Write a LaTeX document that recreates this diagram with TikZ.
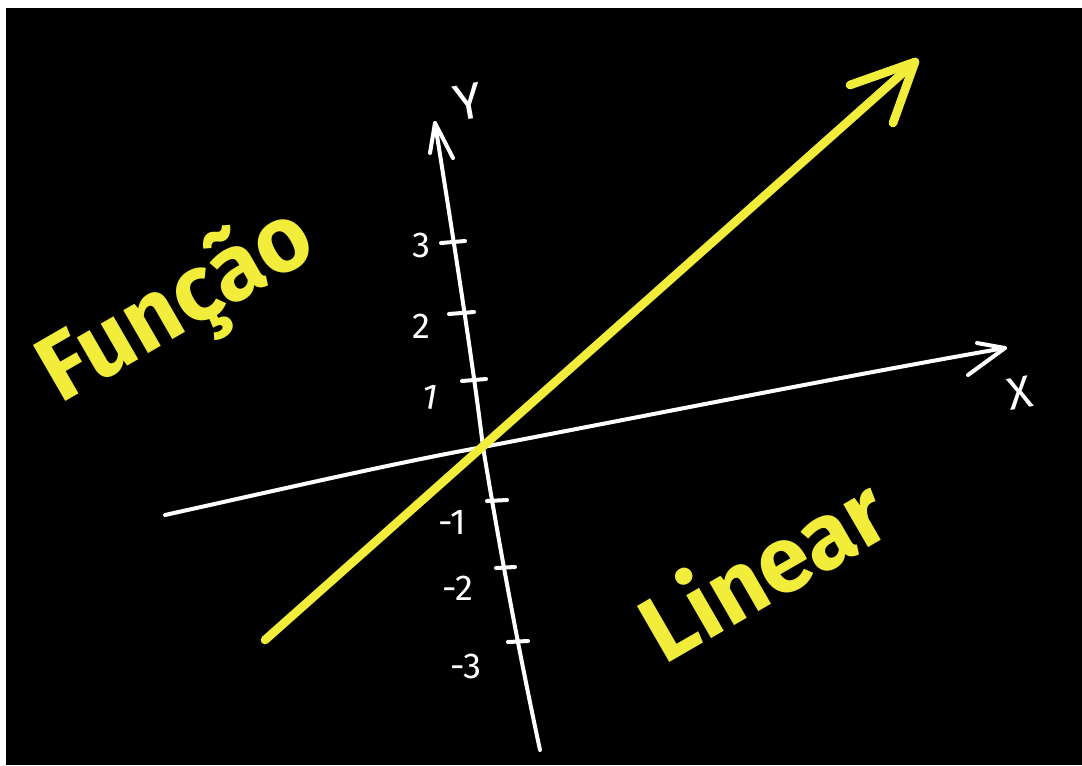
\documentclass[tikz,border=0pt]{standalone}
\usepackage{fontspec}
\setmainfont{Fira Sans}
\definecolor{chalkyellow}{RGB}{242,236,58}
\tikzset{every picture/.style={line width=0.75pt}}

\begin{document}
\begin{tikzpicture}[x=0.75pt,y=0.75pt,yscale=-1,xscale=1]
\useasboundingbox (0,0) rectangle (1082,765);
\tikzset{chalk/.style={draw=white,line width=3pt,line cap=round,line join=round},
  marker/.style={draw=chalkyellow,line width=6.5pt,line cap=round,line join=round},
  numlbl/.style={text=white,font=\fontsize{27}{28}\selectfont,inner sep=0pt},
  bigword/.style={text=chalkyellow,font=\fontsize{70}{72}\selectfont\bfseries,inner sep=0pt,rotate=30}}

%Shape: Rectangle board
\fill [black] (6,8) rectangle (1082,765);

%Coordinates
\coordinate (o) at (483,447);
\coordinate (ytop) at (435,123);
\coordinate (ybot) at (540,750);
\coordinate (xleft) at (165,515);
\coordinate (xright) at (1005,348);
\coordinate (ystart) at (265,640);
\coordinate (yend) at (915,62);

%Straight Lines: x axis
\draw [chalk] (xleft) .. controls (300,485) and (400,462) .. (o) .. controls (650,415) and (850,375) .. (xright);
\draw [chalk] (977,343) -- (xright) -- (968,375);
%Straight Lines: y axis
\draw [chalk] (ytop) .. controls (460,280) and (475,380) .. (o) .. controls (505,580) and (525,680) .. (ybot);
\draw [chalk] (430,153) -- (ytop) -- (453,158);

%Ticks
\draw [chalk] (441,243) -- (465,241);
\draw [chalk] (449,314) -- (474,312);
\draw [chalk] (462,381) -- (486,379);
\draw [chalk] (487,501) -- (507,500);
\draw [chalk] (496,568) -- (515,567);
\draw [chalk] (508,642) -- (528,641);

%Straight Lines: yellow graph
\draw [marker] (ystart) -- (yend);
\draw [marker] (850,85) -- (yend) -- (893,123);

% Text Node
\draw (468,102) node [numlbl,font=\fontsize{38}{40}\selectfont,rotate=10] (ylbl) {Y};
% Text Node
\draw (1020,393) node [numlbl,font=\fontsize{34}{36}\selectfont,rotate=10] (xlbl) {X};
% Text Node
\draw (421,245) node [numlbl] (n3) {3};
\draw (421,326) node [numlbl] (n2) {2};
\draw (430,397) node [numlbl,rotate=-10] (n1) {1};
\draw (452,522) node [numlbl] (m1) {-1};
\draw (458,588) node [numlbl] (m2) {-2};
\draw (466,666) node [numlbl] (m3) {-3};
% Text Node
\draw (178,308) node [bigword] (funcao) {Função};
% Text Node
\draw (762,567) node [bigword] (linear) {Linear};

\end{tikzpicture}
\end{document}
